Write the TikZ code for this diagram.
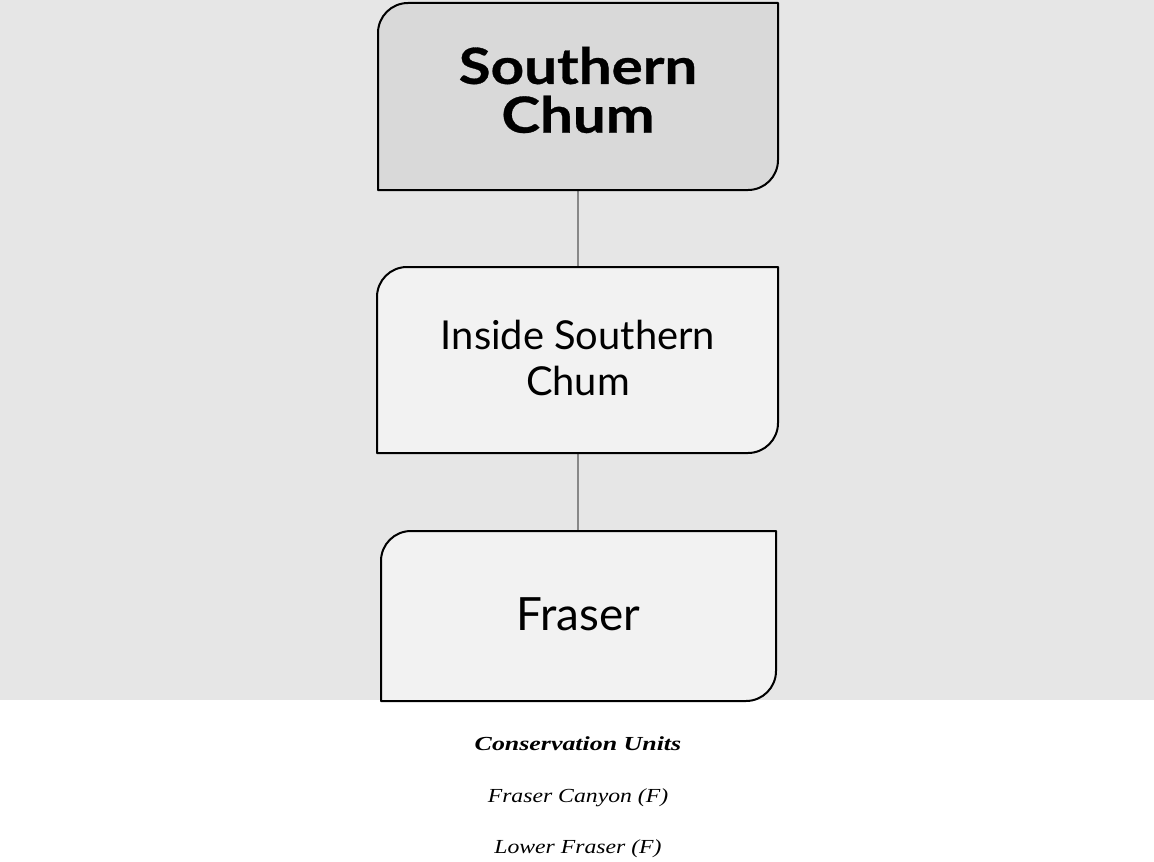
\documentclass[tikz,border=0pt]{standalone}
\usepackage{fontspec}
\setmainfont{Liberation Serif}
\newfontfamily\boxfont{Lato}
\newfontfamily\titlefont[FakeStretch=1.17,FakeBold=0.6]{Lato Bold}
\newfontfamily\capfont[FakeStretch=1.19]{Liberation Serif}
\newfontfamily\capboldfont[FakeStretch=1.3]{Liberation Serif}
\definecolor{bgc}{HTML}{E6E6E6}
\definecolor{topfill}{HTML}{D9D9D9}
\definecolor{lowfill}{HTML}{F2F2F2}
\definecolor{linkc}{HTML}{888888}
\begin{document}
\begin{tikzpicture}[x=1bp,y=1bp,
  boxshape/.style={inner sep=0pt,outer sep=0pt,minimum width=#1},
  boxtext/.style={align=center,text=black,inner sep=0pt},
  link/.style={draw=linkc,line width=2.2bp},
  captext/.style={inner sep=0pt,anchor=base}]
\useasboundingbox (0,0) rectangle (1154,-862);
\fill[bgc] (0,0) rectangle (1154,-700);
\def\rr{30}
% boxes
\node[boxshape=400bp,minimum height=187bp] (b1) at (578,-96.5) {};
\node[boxshape=401bp,minimum height=186bp] (b2) at (577.5,-360) {};
\node[boxshape=395bp,minimum height=170bp] (b3) at (578.5,-616) {};
\draw[link] (b1.south) -- (b1.south |- b2.north);
\draw[link] (b1.south |- b2.south) -- (b1.south |- b3.north);
\foreach \n/\f in {b1/topfill,b2/lowfill,b3/lowfill}{
  \draw[fill=\f,line width=2bp,line join=round]
    (\n.south west) -- ([yshift=-\rr bp]\n.north west)
    arc[start angle=180,end angle=90,radius=\rr bp]
    -- (\n.north east) -- ([yshift=\rr bp]\n.south east)
    arc[start angle=0,end angle=-90,radius=\rr bp] -- cycle;
}
\node[boxtext,font=\titlefont\fontsize{50}{49}\selectfont] (t1) at (578,-90) {Southern\\Chum};
\node[boxtext,font=\boxfont\fontsize{40}{46}\selectfont] (t2) at (578,-358) {Inside Southern\\Chum};
\node[boxtext,font=\boxfont\fontsize{46}{50}\selectfont,anchor=base] (t3) at (578,-630) {Fraser};
% caption
\node[captext,font=\capboldfont\fontsize{20}{24}\selectfont\bfseries\itshape] (c1) at (578,-750) {Conservation Units};
\node[captext,font=\capfont\fontsize{20}{24}\selectfont\itshape] (c2) at (578,-802) {Fraser Canyon (F)};
\node[captext,font=\capfont\fontsize{20}{24}\selectfont\itshape] (c3) at (578,-853) {Lower Fraser (F)};
\end{tikzpicture}
\end{document}
